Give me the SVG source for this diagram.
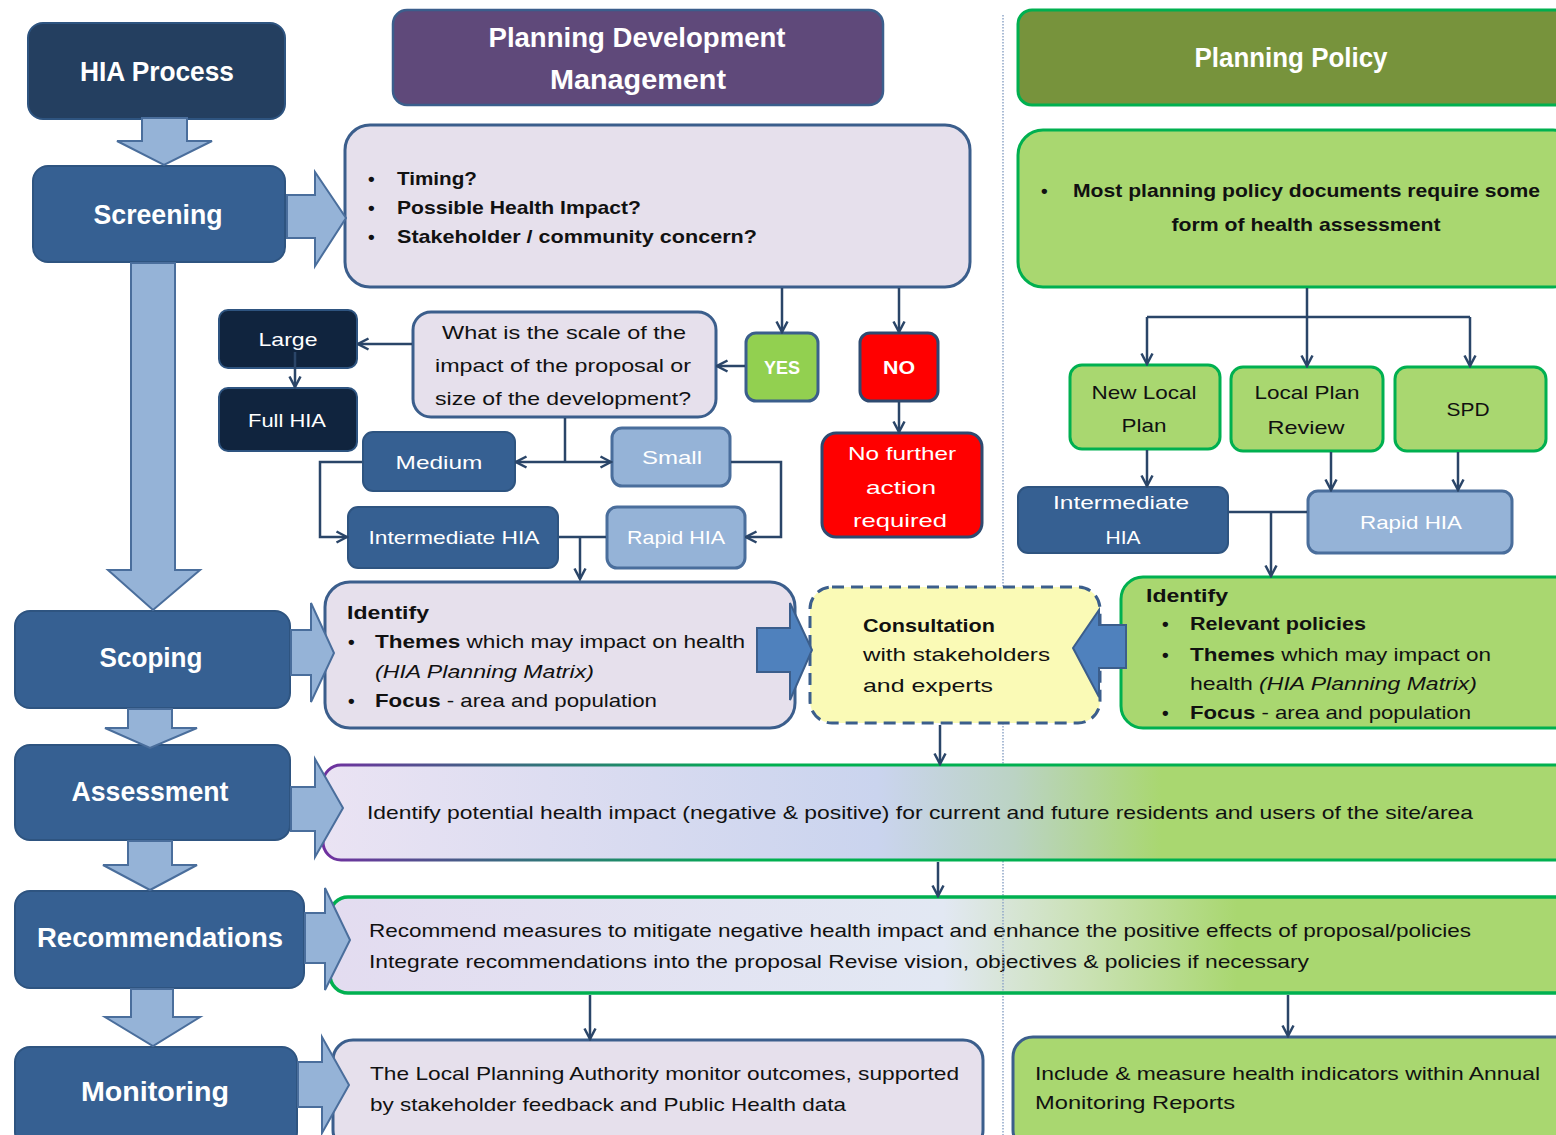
<svg xmlns="http://www.w3.org/2000/svg" width="1556" height="1135" viewBox="0 0 1556 1135">
<defs>
<style>
text{font-family:"Liberation Sans",Arial,sans-serif;fill:#111}
.w{fill:#fff}
.h{font-size:27px;font-weight:bold}
.b{font-size:19px}
.bd{font-weight:bold}
.it{font-style:italic}
.c{text-anchor:middle}
.blk{fill:#95B3D7;stroke:#4A6E9C;stroke-width:2}
.blue{fill:#4F81BD;stroke:#3B5E8C;stroke-width:2}
.stage{fill:#366092;stroke:#2E5480;stroke-width:2}
.lav{fill:#E6E0EC;stroke:#3B5E8C;stroke-width:3}
.grn{fill:#A9D770;stroke:#00B050;stroke-width:3}
.lt{fill:#95B3D7;stroke:#4A6E9C;stroke-width:3}
.dk{fill:#10243E;stroke:#2E5480;stroke-width:2}
.conn{stroke:#2A4568;stroke-width:2.5;fill:none}
.dot{stroke:#8FA6C8;stroke-width:1.5;stroke-dasharray:1.5 1.5}
</style>
<marker id="ah" viewBox="0 0 14 14" refX="12.5" refY="7" markerWidth="14" markerHeight="14" orient="auto" markerUnits="userSpaceOnUse">
<path d="M2,1.5 L12.5,7 L2,12.5" fill="none" stroke="#2A4568" stroke-width="2.5"/>
</marker>
<linearGradient id="gA" gradientUnits="userSpaceOnUse" x1="323" y1="0" x2="1556" y2="0">
<stop offset="0" stop-color="#EAE3F3"/>
<stop offset="0.45" stop-color="#CAD4EE"/>
<stop offset="0.56" stop-color="#BBD3C4"/>
<stop offset="0.68" stop-color="#A9D770"/>
<stop offset="1" stop-color="#A9D770"/>
</linearGradient>
<linearGradient id="gAs" gradientUnits="userSpaceOnUse" x1="323" y1="0" x2="1556" y2="0">
<stop offset="0" stop-color="#7030A0"/>
<stop offset="0.15" stop-color="#3A6A80"/>
<stop offset="0.35" stop-color="#00B050"/>
<stop offset="1" stop-color="#00B050"/>
</linearGradient>
<linearGradient id="gR" gradientUnits="userSpaceOnUse" x1="330" y1="0" x2="1556" y2="0">
<stop offset="0" stop-color="#E3DCF0"/>
<stop offset="0.5" stop-color="#E2E8F3"/>
<stop offset="0.62" stop-color="#C9E1B2"/>
<stop offset="0.74" stop-color="#A9D770"/>
<stop offset="1" stop-color="#A9D770"/>
</linearGradient>
</defs>
<rect width="1556" height="1135" fill="#fff"/>
<line class="dot" x1="1003" y1="15" x2="1003" y2="1135"/>

<g id="hia-process">
<rect x="28" y="23" width="257" height="96" rx="15" fill="#243F60" stroke="#2E5480" stroke-width="2"/>
<text class="h w c" x="157" y="81" textLength="154" lengthAdjust="spacingAndGlyphs">HIA Process</text>
</g>
<g id="screening">
<rect class="stage" x="33" y="166" width="252" height="96" rx="15"/>
<text class="h w c" x="158" y="224" textLength="129" lengthAdjust="spacingAndGlyphs">Screening</text>
</g>
<g id="scoping">
<rect class="stage" x="15" y="611" width="275" height="97" rx="15"/>
<text class="h w c" x="151" y="667" textLength="103" lengthAdjust="spacingAndGlyphs">Scoping</text>
</g>
<g id="assessment">
<rect class="stage" x="15" y="745" width="275" height="95" rx="15"/>
<text class="h w c" x="150" y="801" textLength="157" lengthAdjust="spacingAndGlyphs">Assessment</text>
</g>
<g id="recommendations">
<rect class="stage" x="15" y="891" width="289" height="97" rx="15"/>
<text class="h w c" x="160" y="947" textLength="246" lengthAdjust="spacingAndGlyphs">Recommendations</text>
</g>
<g id="monitoring">
<rect class="stage" x="15" y="1047" width="282" height="100" rx="15"/>
<text class="h w c" x="155" y="1101" textLength="148" lengthAdjust="spacingAndGlyphs">Monitoring</text>
</g>

<g id="planning-dev-mgmt">
<rect x="393" y="10" width="490" height="95" rx="14" fill="#5F497A" stroke="#3B5E8C" stroke-width="2.5"/>
<text class="h w c" x="637" y="47" textLength="297" lengthAdjust="spacingAndGlyphs">Planning Development</text>
<text class="h w c" x="638" y="89" textLength="176" lengthAdjust="spacingAndGlyphs">Management</text>
</g>
<g id="planning-policy">
<rect x="1018" y="10" width="560" height="95" rx="14" fill="#77933C" stroke="#00B050" stroke-width="3"/>
<text class="h w c" x="1291" y="67" textLength="193" lengthAdjust="spacingAndGlyphs">Planning Policy</text>
</g>

<g id="screening-questions">
<rect class="lav" x="345" y="125" width="625" height="162" rx="25"/>
<text class="b bd" x="368" y="185">•</text>
<text class="b bd" x="368" y="214">•</text>
<text class="b bd" x="368" y="243">•</text>
<text class="b bd" x="397" y="185" textLength="80" lengthAdjust="spacingAndGlyphs">Timing?</text>
<text class="b bd" x="397" y="214" textLength="244" lengthAdjust="spacingAndGlyphs">Possible Health Impact?</text>
<text class="b bd" x="397" y="243" textLength="360" lengthAdjust="spacingAndGlyphs">Stakeholder / community concern?</text>
</g>
<g id="policy-documents">
<rect class="grn" x="1018" y="130" width="560" height="157" rx="25"/>
<text class="b bd" x="1041" y="197">•</text>
<text class="b bd" x="1073" y="197" textLength="467" lengthAdjust="spacingAndGlyphs">Most planning policy documents require some</text>
<text class="b bd c" x="1306" y="231" textLength="269" lengthAdjust="spacingAndGlyphs">form of health assessment</text>
</g>

<g id="yes">
<rect x="746" y="333" width="72" height="68" rx="10" fill="#92D050" stroke="#3B5E8C" stroke-width="3"/>
<text class="b bd w c" x="782" y="374" textLength="36" lengthAdjust="spacingAndGlyphs">YES</text>
</g>
<g id="no">
<rect x="860" y="333" width="78" height="68" rx="10" fill="#FF0000" stroke="#2E4A70" stroke-width="3"/>
<text class="b bd w c" x="899" y="374" textLength="32" lengthAdjust="spacingAndGlyphs">NO</text>
</g>
<g id="no-further-action">
<rect x="822" y="433" width="160" height="104" rx="14" fill="#FF0000" stroke="#2E4A70" stroke-width="3"/>
<text class="b w c" x="902" y="460" textLength="108" lengthAdjust="spacingAndGlyphs">No further</text>
<text class="b w c" x="901" y="494" textLength="70" lengthAdjust="spacingAndGlyphs">action</text>
<text class="b w c" x="900" y="527" textLength="94" lengthAdjust="spacingAndGlyphs">required</text>
</g>
<g id="scale-question">
<rect class="lav" x="413" y="312" width="303" height="105" rx="18"/>
<text class="b c" x="564" y="339" textLength="244" lengthAdjust="spacingAndGlyphs">What is the scale of the</text>
<text class="b c" x="563" y="372" textLength="256" lengthAdjust="spacingAndGlyphs">impact of the proposal or</text>
<text class="b c" x="563" y="405" textLength="256" lengthAdjust="spacingAndGlyphs">size of the development?</text>
</g>
<g id="large">
<rect class="dk" x="219" y="310" width="138" height="58" rx="9"/>
<text class="b w c" x="288" y="346" textLength="59" lengthAdjust="spacingAndGlyphs">Large</text>
</g>
<g id="full-hia">
<rect class="dk" x="219" y="388" width="138" height="63" rx="9"/>
<text class="b w c" x="287" y="427" textLength="78" lengthAdjust="spacingAndGlyphs">Full HIA</text>
</g>
<g id="medium">
<rect class="stage" x="363" y="432" width="152" height="59" rx="10"/>
<text class="b w c" x="439" y="469" textLength="87" lengthAdjust="spacingAndGlyphs">Medium</text>
</g>
<g id="small">
<rect class="lt" x="612" y="428" width="118" height="58" rx="10"/>
<text class="b w c" x="672" y="464" textLength="60" lengthAdjust="spacingAndGlyphs">Small</text>
</g>
<g id="intermediate-hia-dev">
<rect class="stage" x="348" y="507" width="210" height="61" rx="10"/>
<text class="b w c" x="454" y="544" textLength="171" lengthAdjust="spacingAndGlyphs">Intermediate HIA</text>
</g>
<g id="rapid-hia-dev">
<rect class="lt" x="607" y="507" width="138" height="61" rx="10"/>
<text class="b w c" x="676" y="544" textLength="98" lengthAdjust="spacingAndGlyphs">Rapid HIA</text>
</g>

<g id="new-local-plan">
<rect class="grn" x="1070" y="365" width="150" height="84" rx="12"/>
<text class="b c" x="1144" y="399" textLength="105" lengthAdjust="spacingAndGlyphs">New Local</text>
<text class="b c" x="1144" y="432" textLength="45" lengthAdjust="spacingAndGlyphs">Plan</text>
</g>
<g id="local-plan-review">
<rect class="grn" x="1231" y="367" width="152" height="84" rx="12"/>
<text class="b c" x="1307" y="399" textLength="105" lengthAdjust="spacingAndGlyphs">Local Plan</text>
<text class="b c" x="1306" y="434" textLength="77" lengthAdjust="spacingAndGlyphs">Review</text>
</g>
<g id="spd">
<rect class="grn" x="1395" y="367" width="151" height="84" rx="12"/>
<text class="b c" x="1468" y="416" textLength="43" lengthAdjust="spacingAndGlyphs">SPD</text>
</g>
<g id="intermediate-hia-policy">
<rect class="stage" x="1018" y="487" width="210" height="66" rx="10"/>
<text class="b w c" x="1121" y="509" textLength="136" lengthAdjust="spacingAndGlyphs">Intermediate</text>
<text class="b w c" x="1123" y="544" textLength="35" lengthAdjust="spacingAndGlyphs">HIA</text>
</g>
<g id="rapid-hia-policy">
<rect class="lt" x="1308" y="491" width="204" height="62" rx="10"/>
<text class="b w c" x="1411" y="529" textLength="102" lengthAdjust="spacingAndGlyphs">Rapid HIA</text>
</g>

<g id="scoping-identify">
<rect class="lav" x="325" y="582" width="470" height="146" rx="25"/>
<text class="b bd" x="347" y="619" textLength="82" lengthAdjust="spacingAndGlyphs">Identify</text>
<text class="b bd" x="348" y="648">•</text>
<text class="b bd" x="348" y="707">•</text>
<text class="b" x="375" y="648" textLength="370" lengthAdjust="spacingAndGlyphs"><tspan class="bd">Themes</tspan> which may impact on health</text>
<text class="b it" x="375" y="678" textLength="219" lengthAdjust="spacingAndGlyphs">(HIA Planning Matrix)</text>
<text class="b" x="375" y="707" textLength="282" lengthAdjust="spacingAndGlyphs"><tspan class="bd">Focus</tspan> - area and population</text>
</g>
<g id="consultation">
<rect x="810" y="587" width="290" height="136" rx="22" fill="#FAFAB6" stroke="#3B5E8C" stroke-width="3" stroke-dasharray="12 7"/>
<text class="b bd" x="863" y="632" textLength="132" lengthAdjust="spacingAndGlyphs">Consultation</text>
<text class="b" x="863" y="661" textLength="187" lengthAdjust="spacingAndGlyphs">with stakeholders</text>
<text class="b" x="863" y="692" textLength="130" lengthAdjust="spacingAndGlyphs">and experts</text>
</g>
<g id="policy-identify">
<rect class="grn" x="1121" y="577" width="460" height="151" rx="22"/>
<text class="b bd" x="1146" y="602" textLength="82" lengthAdjust="spacingAndGlyphs">Identify</text>
<text class="b bd" x="1162" y="630">•</text>
<text class="b bd" x="1162" y="661">•</text>
<text class="b bd" x="1162" y="719">•</text>
<text class="b bd" x="1190" y="630" textLength="176" lengthAdjust="spacingAndGlyphs">Relevant policies</text>
<text class="b" x="1190" y="661" textLength="301" lengthAdjust="spacingAndGlyphs"><tspan class="bd">Themes</tspan> which may impact on</text>
<text class="b" x="1190" y="690" textLength="287" lengthAdjust="spacingAndGlyphs">health <tspan class="it">(HIA Planning Matrix)</tspan></text>
<text class="b" x="1190" y="719" textLength="281" lengthAdjust="spacingAndGlyphs"><tspan class="bd">Focus</tspan> - area and population</text>
</g>

<g id="assessment-bar">
<rect x="323" y="765" width="1260" height="95" rx="18" fill="url(#gA)" stroke="url(#gAs)" stroke-width="3"/>
<text class="b" x="367" y="819" textLength="1106" lengthAdjust="spacingAndGlyphs">Identify potential health impact  (negative &amp; positive) for current and future residents and users of the site/area</text>
</g>
<g id="recommendations-bar">
<rect x="330" y="897" width="1253" height="96" rx="18" fill="url(#gR)" stroke="#00B050" stroke-width="3.5"/>
<text class="b" x="369" y="937" textLength="1102" lengthAdjust="spacingAndGlyphs">Recommend measures to mitigate negative health impact and enhance the positive effects of proposal/policies</text>
<text class="b" x="369" y="968" textLength="940" lengthAdjust="spacingAndGlyphs">Integrate recommendations into the proposal Revise  vision, objectives  &amp; policies if necessary</text>
</g>
<line class="dot" x1="1003" y1="899" x2="1003" y2="991"/>
<g id="monitoring-dev">
<rect class="lav" x="333" y="1040" width="650" height="110" rx="20"/>
<text class="b" x="370" y="1080" textLength="589" lengthAdjust="spacingAndGlyphs">The Local Planning Authority monitor outcomes, supported</text>
<text class="b" x="370" y="1111" textLength="476" lengthAdjust="spacingAndGlyphs">by stakeholder feedback and Public Health data</text>
</g>
<g id="monitoring-policy">
<rect x="1013" y="1037" width="570" height="113" rx="20" fill="#A9D770" stroke="#3B5E8C" stroke-width="3"/>
<text class="b" x="1035" y="1080" textLength="505" lengthAdjust="spacingAndGlyphs">Include  &amp; measure health indicators within Annual</text>
<text class="b" x="1035" y="1109" textLength="200" lengthAdjust="spacingAndGlyphs">Monitoring Reports</text>
</g>

<g id="connectors">
<polygon class="blk" points="142,118 187,118 187,141 212,141 164,165 117,141 142,141"/>
<polygon class="blk" points="287,195 315,195 315,172 346,218 315,266 315,238 287,238"/>
<polygon class="blk" points="131,263 175,263 175,570 200,570 153,610 108,570 131,570"/>
<polygon class="blk" points="291,630 311,630 311,603 334,653 311,702 311,675 291,675"/>
<polygon class="blk" points="128,709 172,709 172,728 197,728 150,748 105,728 128,728"/>
<polygon class="blk" points="291,787 315,787 315,759 343,808 315,857 315,831 291,831"/>
<polygon class="blk" points="128,841 172,841 172,865 197,865 150,890 103,865 128,865"/>
<polygon class="blk" points="305,913 325,913 325,888 350,940 325,990 325,963 305,963"/>
<polygon class="blk" points="131,989 173,989 173,1017 200,1017 153,1046 105,1017 131,1017"/>
<polygon class="blk" points="298,1062 322,1062 322,1037 349,1085 322,1133 322,1107 298,1107"/>
<polygon class="blue" points="757,628 790,628 790,603 812,650 790,700 790,672 757,672"/>
<polygon class="blue" points="1126,625 1099,625 1099,610 1073,648 1099,697 1099,668 1126,668"/>
<path class="conn" d="M782,288 V332" marker-end="url(#ah)"/>
<path class="conn" d="M899,288 V332" marker-end="url(#ah)"/>
<path class="conn" d="M899,402 V432" marker-end="url(#ah)"/>
<path class="conn" d="M745,366 H717" marker-end="url(#ah)"/>
<path class="conn" d="M412,344 H358" marker-end="url(#ah)"/>
<path class="conn" d="M295,352 V387" marker-end="url(#ah)"/>
<path class="conn" d="M565,418 V462"/>
<path class="conn" d="M565,462 H516" marker-end="url(#ah)"/>
<path class="conn" d="M565,462 H611" marker-end="url(#ah)"/>
<path class="conn" d="M362,462 H320 V537 H347" marker-end="url(#ah)"/>
<path class="conn" d="M731,462 H781 V537 H746" marker-end="url(#ah)"/>
<path class="conn" d="M559,537 H606"/>
<path class="conn" d="M580,537 V579" marker-end="url(#ah)"/>
<path class="conn" d="M1307,288 V317 M1147,317 H1470"/>
<path class="conn" d="M1147,317 V364" marker-end="url(#ah)"/>
<path class="conn" d="M1307,317 V366" marker-end="url(#ah)"/>
<path class="conn" d="M1470,317 V366" marker-end="url(#ah)"/>
<path class="conn" d="M1147,450 V486" marker-end="url(#ah)"/>
<path class="conn" d="M1331,452 V490" marker-end="url(#ah)"/>
<path class="conn" d="M1458,452 V490" marker-end="url(#ah)"/>
<path class="conn" d="M1229,512 H1307"/>
<path class="conn" d="M1271,512 V576" marker-end="url(#ah)"/>
<path class="conn" d="M940,725 V764" marker-end="url(#ah)"/>
<path class="conn" d="M938,862 V896" marker-end="url(#ah)"/>
<path class="conn" d="M590,995 V1039" marker-end="url(#ah)"/>
<path class="conn" d="M1288,995 V1036" marker-end="url(#ah)"/>
</g>
</svg>
